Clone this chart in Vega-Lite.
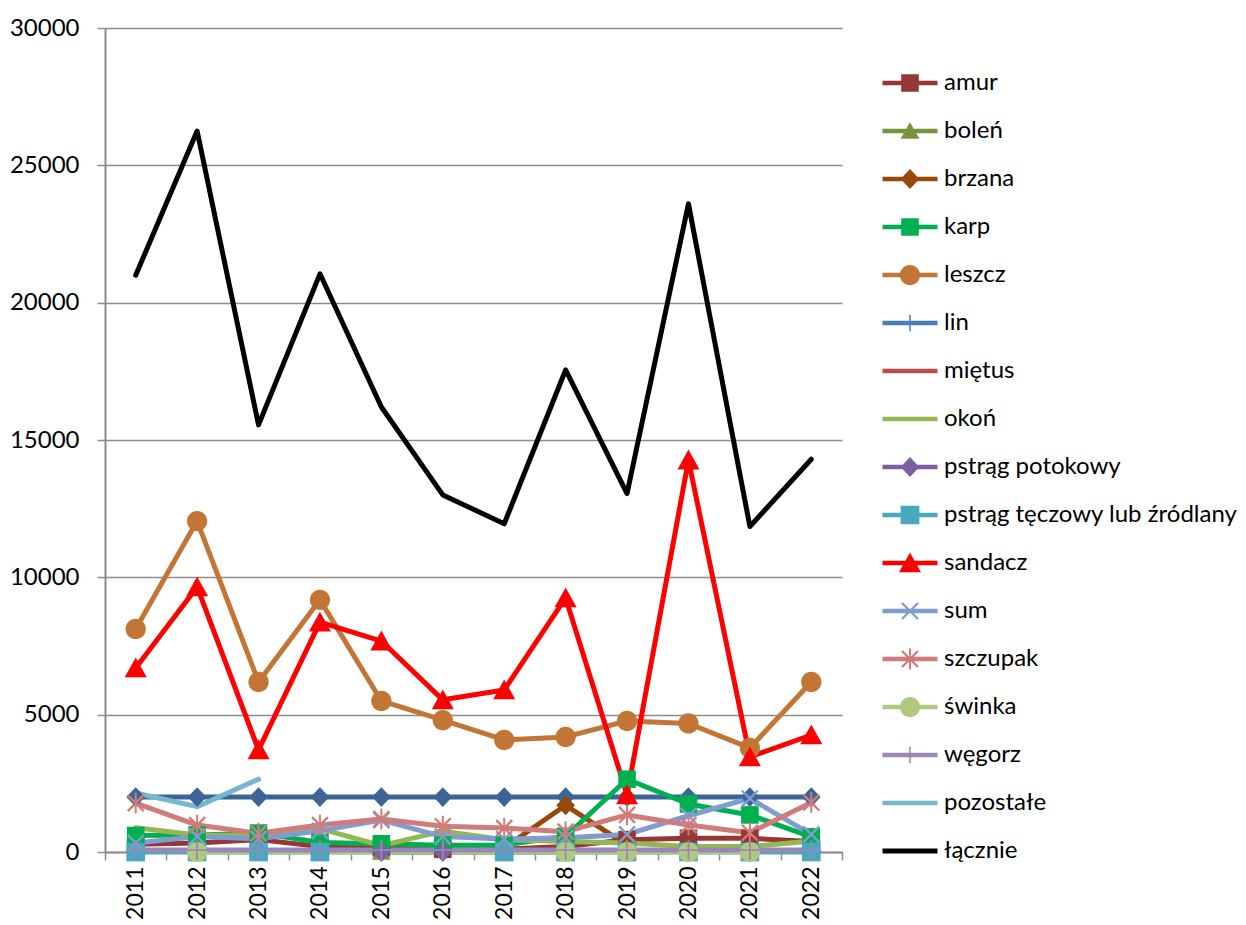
{
  "$schema": "https://vega.github.io/schema/vega-lite/v6.json",
  "width": 737,
  "height": 824,
  "autosize": {"type": "none"},
  "padding": {"left": 105, "top": 28, "right": 404, "bottom": 73},
  "background": "white",
  "config": {"view": {"stroke": null}},
  "data": {"values": [
    {"series": "poziom", "year": 2011, "value": 2000},
    {"series": "poziom", "year": 2012, "value": 2000},
    {"series": "poziom", "year": 2013, "value": 2000},
    {"series": "poziom", "year": 2014, "value": 2000},
    {"series": "poziom", "year": 2015, "value": 2000},
    {"series": "poziom", "year": 2016, "value": 2000},
    {"series": "poziom", "year": 2017, "value": 2000},
    {"series": "poziom", "year": 2018, "value": 2000},
    {"series": "poziom", "year": 2019, "value": 2000},
    {"series": "poziom", "year": 2020, "value": 2000},
    {"series": "poziom", "year": 2021, "value": 2000},
    {"series": "poziom", "year": 2022, "value": 2000},
    {"series": "amur", "year": 2011, "value": 280},
    {"series": "amur", "year": 2012, "value": 330},
    {"series": "amur", "year": 2013, "value": 450},
    {"series": "amur", "year": 2014, "value": 200},
    {"series": "amur", "year": 2015, "value": 150},
    {"series": "amur", "year": 2016, "value": 100},
    {"series": "amur", "year": 2017, "value": 100},
    {"series": "amur", "year": 2018, "value": 200},
    {"series": "amur", "year": 2019, "value": 450},
    {"series": "amur", "year": 2020, "value": 500},
    {"series": "amur", "year": 2021, "value": 500},
    {"series": "amur", "year": 2022, "value": 380},
    {"series": "boleń", "year": 2015, "value": 0},
    {"series": "boleń", "year": 2018, "value": 0},
    {"series": "brzana", "year": 2017, "value": 150},
    {"series": "brzana", "year": 2018, "value": 1700},
    {"series": "brzana", "year": 2019, "value": 250},
    {"series": "karp", "year": 2011, "value": 600},
    {"series": "karp", "year": 2012, "value": 620},
    {"series": "karp", "year": 2013, "value": 690},
    {"series": "karp", "year": 2014, "value": 350},
    {"series": "karp", "year": 2015, "value": 300},
    {"series": "karp", "year": 2016, "value": 250},
    {"series": "karp", "year": 2017, "value": 250},
    {"series": "karp", "year": 2018, "value": 570},
    {"series": "karp", "year": 2019, "value": 2650},
    {"series": "karp", "year": 2020, "value": 1750},
    {"series": "karp", "year": 2021, "value": 1350},
    {"series": "karp", "year": 2022, "value": 550},
    {"series": "leszcz", "year": 2011, "value": 8120},
    {"series": "leszcz", "year": 2012, "value": 12050},
    {"series": "leszcz", "year": 2013, "value": 6190},
    {"series": "leszcz", "year": 2014, "value": 9180},
    {"series": "leszcz", "year": 2015, "value": 5500},
    {"series": "leszcz", "year": 2016, "value": 4800},
    {"series": "leszcz", "year": 2017, "value": 4080},
    {"series": "leszcz", "year": 2018, "value": 4190},
    {"series": "leszcz", "year": 2019, "value": 4770},
    {"series": "leszcz", "year": 2020, "value": 4680},
    {"series": "leszcz", "year": 2021, "value": 3790},
    {"series": "leszcz", "year": 2022, "value": 6190},
    {"series": "okoń", "year": 2011, "value": 880},
    {"series": "okoń", "year": 2012, "value": 620},
    {"series": "okoń", "year": 2013, "value": 600},
    {"series": "okoń", "year": 2014, "value": 850},
    {"series": "okoń", "year": 2015, "value": 230},
    {"series": "okoń", "year": 2016, "value": 760},
    {"series": "okoń", "year": 2017, "value": 450},
    {"series": "okoń", "year": 2018, "value": 380},
    {"series": "okoń", "year": 2019, "value": 330},
    {"series": "okoń", "year": 2020, "value": 200},
    {"series": "okoń", "year": 2021, "value": 200},
    {"series": "okoń", "year": 2022, "value": 400},
    {"series": "pstrąg potokowy", "year": 2015, "value": 0},
    {"series": "pstrąg potokowy", "year": 2016, "value": 0},
    {"series": "pstrąg tęczowy lub źródlany", "year": 2011, "value": 0},
    {"series": "pstrąg tęczowy lub źródlany", "year": 2012, "value": 0},
    {"series": "pstrąg tęczowy lub źródlany", "year": 2013, "value": 0},
    {"series": "pstrąg tęczowy lub źródlany", "year": 2014, "value": 0},
    {"series": "pstrąg tęczowy lub źródlany", "year": 2017, "value": 0},
    {"series": "pstrąg tęczowy lub źródlany", "year": 2018, "value": 0},
    {"series": "pstrąg tęczowy lub źródlany", "year": 2019, "value": 0},
    {"series": "pstrąg tęczowy lub źródlany", "year": 2020, "value": 0},
    {"series": "pstrąg tęczowy lub źródlany", "year": 2021, "value": 0},
    {"series": "pstrąg tęczowy lub źródlany", "year": 2022, "value": 0},
    {"series": "sandacz", "year": 2011, "value": 6700},
    {"series": "sandacz", "year": 2012, "value": 9650},
    {"series": "sandacz", "year": 2013, "value": 3720},
    {"series": "sandacz", "year": 2014, "value": 8370},
    {"series": "sandacz", "year": 2015, "value": 7680},
    {"series": "sandacz", "year": 2016, "value": 5540},
    {"series": "sandacz", "year": 2017, "value": 5900},
    {"series": "sandacz", "year": 2018, "value": 9250},
    {"series": "sandacz", "year": 2019, "value": 2080},
    {"series": "sandacz", "year": 2020, "value": 14270},
    {"series": "sandacz", "year": 2021, "value": 3460},
    {"series": "sandacz", "year": 2022, "value": 4260},
    {"series": "sum", "year": 2011, "value": 330},
    {"series": "sum", "year": 2012, "value": 560},
    {"series": "sum", "year": 2013, "value": 480},
    {"series": "sum", "year": 2014, "value": 770},
    {"series": "sum", "year": 2015, "value": 1160},
    {"series": "sum", "year": 2016, "value": 560},
    {"series": "sum", "year": 2017, "value": 470},
    {"series": "sum", "year": 2018, "value": 520},
    {"series": "sum", "year": 2019, "value": 640},
    {"series": "sum", "year": 2020, "value": 1320},
    {"series": "sum", "year": 2021, "value": 1950},
    {"series": "sum", "year": 2022, "value": 640},
    {"series": "szczupak", "year": 2011, "value": 1780},
    {"series": "szczupak", "year": 2012, "value": 980},
    {"series": "szczupak", "year": 2013, "value": 680},
    {"series": "szczupak", "year": 2014, "value": 980},
    {"series": "szczupak", "year": 2015, "value": 1200},
    {"series": "szczupak", "year": 2016, "value": 940},
    {"series": "szczupak", "year": 2017, "value": 870},
    {"series": "szczupak", "year": 2018, "value": 740},
    {"series": "szczupak", "year": 2019, "value": 1350},
    {"series": "szczupak", "year": 2020, "value": 980},
    {"series": "szczupak", "year": 2021, "value": 700},
    {"series": "szczupak", "year": 2022, "value": 1800},
    {"series": "świnka", "year": 2012, "value": 0},
    {"series": "świnka", "year": 2018, "value": 0},
    {"series": "świnka", "year": 2019, "value": 0},
    {"series": "świnka", "year": 2020, "value": 0},
    {"series": "świnka", "year": 2021, "value": 0},
    {"series": "węgorz", "year": 2011, "value": 70},
    {"series": "węgorz", "year": 2012, "value": 70},
    {"series": "węgorz", "year": 2013, "value": 70},
    {"series": "węgorz", "year": 2014, "value": 70},
    {"series": "węgorz", "year": 2015, "value": 70},
    {"series": "węgorz", "year": 2016, "value": 70},
    {"series": "węgorz", "year": 2017, "value": 70},
    {"series": "węgorz", "year": 2018, "value": 70},
    {"series": "węgorz", "year": 2019, "value": 70},
    {"series": "węgorz", "year": 2020, "value": 70},
    {"series": "węgorz", "year": 2021, "value": 70},
    {"series": "węgorz", "year": 2022, "value": 70},
    {"series": "pozostałe", "year": 2011, "value": 2150},
    {"series": "pozostałe", "year": 2012, "value": 1650},
    {"series": "pozostałe", "year": 2013, "value": 2650},
    {"series": "łącznie", "year": 2011, "value": 21000},
    {"series": "łącznie", "year": 2012, "value": 26250},
    {"series": "łącznie", "year": 2013, "value": 15550},
    {"series": "łącznie", "year": 2014, "value": 21050},
    {"series": "łącznie", "year": 2015, "value": 16200},
    {"series": "łącznie", "year": 2016, "value": 13000},
    {"series": "łącznie", "year": 2017, "value": 11950},
    {"series": "łącznie", "year": 2018, "value": 17550},
    {"series": "łącznie", "year": 2019, "value": 13050},
    {"series": "łącznie", "year": 2020, "value": 23600},
    {"series": "łącznie", "year": 2021, "value": 11850},
    {"series": "łącznie", "year": 2022, "value": 14300}
  ]},
  "resolve": {"scale": {"shape": "independent"}, "axis": {"x": "independent"}, "legend": {"shape": "independent"}},
  "layer": [
    {
      "mark": {"type": "line", "strokeWidth": 5, "strokeJoin": "round", "strokeCap": "round"},
      "encoding": {
        "x": {"field": "year", "type": "quantitative",
          "scale": {"domain": [2010.5, 2022.5], "nice": false, "zero": false},
          "axis": {"orient": "bottom", "values": [2010.5, 2011.5, 2012.5, 2013.5, 2014.5, 2015.5, 2016.5, 2017.5, 2018.5, 2019.5, 2020.5, 2021.5, 2022.5],
            "labels": false, "ticks": true, "tickSize": 8, "tickColor": "#8c8c8c", "tickWidth": 1.5,
            "domain": true, "domainColor": "#8c8c8c", "domainWidth": 2, "grid": false, "title": null}},
        "y": {"field": "value", "type": "quantitative",
          "scale": {"domain": [0, 30000], "nice": false},
          "axis": {"values": [0, 5000, 10000, 15000, 20000, 25000, 30000], "format": "d",
            "grid": true, "gridColor": "#8c8c8c", "gridWidth": 1.5,
            "tickSize": 8, "tickColor": "#8c8c8c", "tickWidth": 1.5,
            "domainColor": "#8c8c8c", "domainWidth": 2,
            "labelFont": "Lato", "labelFontSize": 24, "labelColor": "#000000", "labelPadding": 18, "title": null}},
        "color": {"field": "series", "type": "nominal", "legend": null,
          "scale": {"domain": ["poziom", "amur", "boleń", "brzana", "karp", "leszcz", "lin", "miętus", "okoń", "pstrąg potokowy", "pstrąg tęczowy lub źródlany", "sandacz", "sum", "szczupak", "świnka", "węgorz", "pozostałe", "łącznie"],
            "range": ["#3C6496", "#953735", "#77933C", "#984807", "#00B050", "#C27535", "#4A7EBB", "#BE4B48", "#94B74F", "#7D5FA0", "#4AA7C0", "#FF0000", "#7F9DD0", "#D17C7A", "#B0C97E", "#9B86B8", "#75B8CE", "#000000"]}}
      }
    },
    {
      "transform": [{"filter": {"field": "series", "oneOf": ["poziom", "amur", "boleń", "brzana", "karp", "leszcz", "pstrąg potokowy", "pstrąg tęczowy lub źródlany", "sandacz", "sum", "szczupak", "świnka", "węgorz"]}}],
      "mark": {"type": "point", "filled": true, "opacity": 1, "size": 484, "strokeWidth": 0},
      "encoding": {
        "x": {"field": "year", "type": "quantitative",
          "axis": {"orient": "bottom", "values": [2011, 2012, 2013, 2014, 2015, 2016, 2017, 2018, 2019, 2020, 2021, 2022], "format": "d",
            "labelAngle": -90, "ticks": false, "tickSize": 0, "domain": false, "grid": false,
            "labelFont": "Lato", "labelFontSize": 23, "labelColor": "#000000", "labelPadding": 14, "title": null}},
        "y": {"field": "value", "type": "quantitative"},
        "color": {"field": "series", "type": "nominal", "legend": null},
        "shape": {"field": "series", "type": "nominal", "legend": null,
          "scale": {"domain": ["poziom", "amur", "boleń", "brzana", "karp", "leszcz", "pstrąg potokowy", "pstrąg tęczowy lub źródlany", "sandacz", "sum", "szczupak", "świnka", "węgorz"],
            "range": [
              "M0,-0.9L0.85,0L0,0.9L-0.85,0Z",
              "M-0.8,-0.8H0.8V0.8H-0.8Z",
              "M0,-0.8L0.85,0.7L-0.85,0.7Z",
              "M0,-0.9L0.85,0L0,0.9L-0.85,0Z",
              "M-0.8,-0.8H0.8V0.8H-0.8Z",
              "M-0.92,0A0.92,0.92 0 0,1 0.92,0A0.92,0.92 0 0,1 -0.92,0Z",
              "M0,-0.9L0.85,0L0,0.9L-0.85,0Z",
              "M-0.85,-0.85H0.85V0.85H-0.85Z",
              "M0,-0.95L1,0.85L-1,0.85Z",
              "M-0.8,-0.65L-0.65,-0.8L0.8,0.65L0.65,0.8ZM0.65,-0.8L0.8,-0.65L-0.65,0.8L-0.8,0.65Z",
              "M-0.8,-0.65L-0.65,-0.8L0.8,0.65L0.65,0.8ZM0.65,-0.8L0.8,-0.65L-0.65,0.8L-0.8,0.65ZM-0.09,-0.95H0.09V0.95H-0.09Z",
              "M-0.92,0A0.92,0.92 0 0,1 0.92,0A0.92,0.92 0 0,1 -0.92,0Z",
              "M-0.08,-0.9H0.08V0.9H-0.08ZM-0.9,-0.08H0.9V0.08H-0.9Z"
            ]}}
      }
    },
    {
      "transform": [{"filter": "datum.series != 'poziom'"}],
      "mark": {"type": "point", "filled": true, "opacity": 0, "size": 484},
      "encoding": {
        "x": {"field": "year", "type": "quantitative", "axis": null},
        "y": {"field": "value", "type": "quantitative"},
        "color": {"field": "series", "type": "nominal", "legend": null},
        "shape": {"field": "series", "type": "nominal",
          "scale": {"domain": ["amur", "boleń", "brzana", "karp", "leszcz", "lin", "miętus", "okoń", "pstrąg potokowy", "pstrąg tęczowy lub źródlany", "sandacz", "sum", "szczupak", "świnka", "węgorz", "pozostałe", "łącznie"],
            "range": [
              "M-2.5,-0.2H2.5V0.2H-2.5ZM-0.8,-0.8H0.8V0.8H-0.8Z",
              "M-2.5,-0.2H2.5V0.2H-2.5ZM0,-0.8L0.85,0.7L-0.85,0.7Z",
              "M-2.5,-0.2H2.5V0.2H-2.5ZM0,-0.9L0.85,0L0,0.9L-0.85,0Z",
              "M-2.5,-0.2H2.5V0.2H-2.5ZM-0.8,-0.8H0.8V0.8H-0.8Z",
              "M-2.5,-0.2H2.5V0.2H-2.5ZM-0.92,0A0.92,0.92 0 0,1 0.92,0A0.92,0.92 0 0,1 -0.92,0Z",
              "M-2.5,-0.2H2.5V0.2H-2.5ZM-0.07,-0.75H0.07V0.75H-0.07Z",
              "M-2.5,-0.2H2.5V0.2H-2.5Z",
              "M-2.5,-0.2H2.5V0.2H-2.5Z",
              "M-2.5,-0.2H2.5V0.2H-2.5ZM0,-0.9L0.85,0L0,0.9L-0.85,0Z",
              "M-2.5,-0.2H2.5V0.2H-2.5ZM-0.85,-0.85H0.85V0.85H-0.85Z",
              "M-2.5,-0.2H2.5V0.2H-2.5ZM0,-0.95L1,0.85L-1,0.85Z",
              "M-2.5,-0.2H2.5V0.2H-2.5ZM-0.8,-0.65L-0.65,-0.8L0.8,0.65L0.65,0.8ZM0.65,-0.8L0.8,-0.65L-0.65,0.8L-0.8,0.65Z",
              "M-2.5,-0.2H2.5V0.2H-2.5ZM-0.8,-0.65L-0.65,-0.8L0.8,0.65L0.65,0.8ZM0.65,-0.8L0.8,-0.65L-0.65,0.8L-0.8,0.65ZM-0.09,-0.95H0.09V0.95H-0.09Z",
              "M-2.5,-0.2H2.5V0.2H-2.5ZM-0.92,0A0.92,0.92 0 0,1 0.92,0A0.92,0.92 0 0,1 -0.92,0Z",
              "M-2.5,-0.2H2.5V0.2H-2.5ZM-0.07,-0.75H0.07V0.75H-0.07Z",
              "M-2.5,-0.2H2.5V0.2H-2.5Z",
              "M-2.5,-0.22H2.5V0.22H-2.5Z"
            ]},
          "legend": {"orient": "none", "legendX": 793, "legendY": 43, "title": null,
            "symbolSize": 484, "symbolOpacity": 1, "symbolStrokeWidth": 0,
            "symbolFillColor": {"expr": "scale('color', datum.value)"},
            "labelFont": "Lato", "labelFontSize": 24, "labelColor": "#000000", "labelOffset": 22, "labelLimit": 500,
            "rowPadding": 24}}
      }
    }
  ]
}
